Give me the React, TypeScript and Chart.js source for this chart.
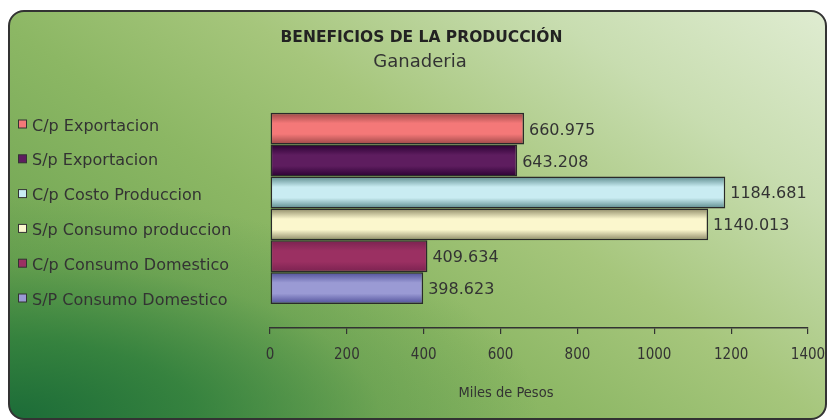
import React, { useEffect, useLayoutEffect, useRef } from "react";
import { Chart, registerables } from "chart.js";

Chart.register(...registerables);

const categories = ["Ganaderia"];
const seriesLabels = [
  "C/p Exportacion",
  "S/p Exportacion",
  "C/p Costo Produccion",
  "S/p Consumo produccion",
  "C/p Consumo Domestico",
  "S/P Consumo Domestico",
];
const seriesValues = [660.975, 643.208, 1184.681, 1140.013, 409.634, 398.623];
const baseColors = ["#f47878", "#5e1d5f", "#c9ecf2", "#fbf7cd", "#9b3062", "#9a9ad4"];
const edgeColors = ["#9a4646", "#2a0032", "#5c8a8c", "#8c8866", "#7a2250", "#4e4e98"];
const xTickValues = [0, 200, 400, 600, 800, 1000, 1200, 1400];
const chartTitle = "BENEFICIOS DE LA PRODUCCIÓN";
const chartSubtitle = "Ganaderia";
const xAxisTitle = "Miles de Pesos";

const TEXT = "#333333";
const SANS = "'DejaVu Sans', 'Noto Sans', sans-serif";
const COND = "'DejaVu Sans Condensed', 'Liberation Sans Narrow', 'DejaVu Sans', sans-serif";

const decorPlugin = {
  id: "decor",
  beforeDatasetsDraw(chart: any) {
    const ctx = chart.ctx as CanvasRenderingContext2D;
    chart.data.datasets.forEach((_ds: any, i: number) => {
      const meta = chart.getDatasetMeta(i);
      meta.data.forEach((el: any) => {
        const { y, height } = el.getProps(["y", "height"], true);
        const top = y - height / 2;
        const g = ctx.createLinearGradient(0, top, 0, top + height);
        g.addColorStop(0, edgeColors[i]);
        g.addColorStop(0.33, baseColors[i]);
        g.addColorStop(0.67, baseColors[i]);
        g.addColorStop(1, edgeColors[i]);
        el.options.backgroundColor = g;
      });
    });
  },
  afterDatasetsDraw(chart: any) {
    const ctx = chart.ctx as CanvasRenderingContext2D;
    ctx.save();
    ctx.font = `16px ${SANS}`;
    ctx.fillStyle = TEXT;
    ctx.textAlign = "left";
    ctx.textBaseline = "alphabetic";
    chart.data.datasets.forEach((ds: any, i: number) => {
      const meta = chart.getDatasetMeta(i);
      meta.data.forEach((el: any, j: number) => {
        const { x, y } = el.getProps(["x", "y"], true);
        ctx.fillText(Number(ds.data[j]).toFixed(3), x + 5, y + 6);
      });
    });
    ctx.restore();
  },
  afterDraw(chart: any) {
    const ctx = chart.ctx as CanvasRenderingContext2D;
    ctx.save();
    ctx.fillStyle = "#222222";
    ctx.textAlign = "center";
    ctx.textBaseline = "alphabetic";
    ctx.font = `bold 15.5px ${SANS}`;
    ctx.fillText(chartTitle, 411.5, 30);
    ctx.fillStyle = TEXT;
    ctx.font = `18px ${SANS}`;
    ctx.fillText(chartSubtitle, 410, 54.5);
    ctx.font = `14.5px ${COND}`;
    ctx.fillText(xAxisTitle, 496, 384.7);
    ctx.textAlign = "left";
    ctx.font = `16px ${SANS}`;
    chart.data.datasets.forEach((ds: any, i: number) => {
      const base = 118.5 + i * 34.8;
      ctx.fillStyle = baseColors[i];
      ctx.fillRect(8.5, base - 10.5, 8, 8);
      ctx.strokeStyle = "#333333";
      ctx.lineWidth = 1;
      ctx.strokeRect(8.5, base - 10.5, 8, 8);
      ctx.fillStyle = TEXT;
      ctx.fillText(ds.label, 22, base);
    });
    ctx.restore();
  },
};

export default function App() {
  const ref = useRef<HTMLCanvasElement | null>(null);

  useLayoutEffect(() => {
    document.body.style.margin = "0";
  }, []);

  useEffect(() => {
    if (!ref.current) return;
    const chart = new Chart(ref.current, {
      type: "bar",
      data: {
        labels: categories,
        datasets: seriesLabels.map((label, i) => ({
          label,
          data: [seriesValues[i]],
          backgroundColor: baseColors[i],
          borderColor: "#2a2a2a",
          borderWidth: 1.5,
          borderSkipped: false,
          barPercentage: 1,
          categoryPercentage: 0.8,
        })),
      },
      options: {
        indexAxis: "y",
        animation: false,
        responsive: false,
        devicePixelRatio: 1,
        layout: { padding: { left: 260, right: 20, top: 76.8, bottom: 41 } },
        plugins: {
          legend: { display: false },
          title: { display: false },
          tooltip: { enabled: false },
        },
        scales: {
          y: { display: false },
          x: {
            min: 0,
            max: 1400,
            afterBuildTicks: (scale: any) => {
              scale.ticks = xTickValues.map((v) => ({ value: v }));
            },
            afterFit: (scale: any) => {
              scale.paddingLeft = 0;
              scale.paddingRight = 0;
            },
            grid: {
              display: true,
              drawOnChartArea: false,
              drawTicks: true,
              tickLength: 6,
              color: "#333333",
              lineWidth: 1.2,
            },
            border: { display: true, color: "#333333", width: 1.5 },
            ticks: {
              color: TEXT,
              padding: 12.5,
              maxRotation: 0,
              autoSkip: false,
              font: { family: COND, size: 15 },
              callback: (v: any) => String(v),
            },
          },
        },
      },
      plugins: [decorPlugin],
    });
    return () => chart.destroy();
  }, []);

  return (
    <div style={{ position: "relative", width: 828, height: 420, overflow: "hidden" }}>
      <div
        style={{
          position: "absolute",
          left: 8,
          top: 10,
          width: 819,
          height: 410,
          boxSizing: "border-box",
          border: "2px solid #333333",
          borderRadius: 16,
          background:
            "radial-gradient(ellipse 65% 55% at 0% 100%, rgba(28,108,56,1) 0%, rgba(40,122,58,0.8) 35%, rgba(70,140,66,0.3) 70%, rgba(90,150,70,0) 100%), linear-gradient(35deg, #5e9a48 0%, #8cb764 40%, #a6c67c 58%, #c8ddb0 80%, #dfecd1 100%)",
        }}
      >
        <canvas
          ref={ref}
          width={818}
          height={406}
          style={{ position: "absolute", left: 0, top: 0, width: 818, height: 406 }}
        />
      </div>
    </div>
  );
}
